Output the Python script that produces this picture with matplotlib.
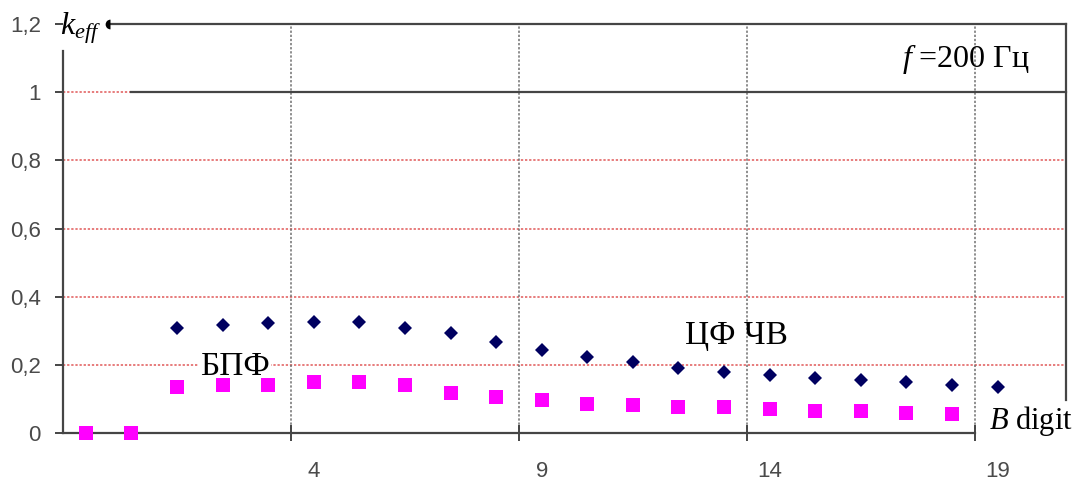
import matplotlib.pyplot as plt

# данные
bits_fft = [-1, 0, 1, 2, 3, 4, 5, 6, 7, 8, 9, 10, 11, 12, 13, 14, 15, 16, 17, 18]
k_fft = [0, 0, 0.134, 0.140, 0.141, 0.151, 0.151, 0.140, 0.117, 0.105,
         0.097, 0.086, 0.081, 0.077, 0.077, 0.069, 0.066, 0.066, 0.059, 0.056]

bits_cf = [1, 2, 3, 4, 5, 6, 7, 8, 9, 10, 11, 12, 13, 14, 15, 16, 17, 18, 19]
k_cf = [0.307, 0.317, 0.324, 0.327, 0.325, 0.307, 0.293, 0.268, 0.244, 0.222,
        0.207, 0.192, 0.180, 0.169, 0.162, 0.155, 0.150, 0.140, 0.136]

y_ticks = [0, 0.2, 0.4, 0.6, 0.8, 1.0, 1.2]
y_labels = ['0', '0,2', '0,4', '0,6', '0,8', '1', '1,2']
x_label_pos = [4, 9, 14, 19]
x_labels = ['4', '9', '14', '19']

plt.rcParams['mathtext.fontset'] = 'custom'
plt.rcParams['mathtext.rm'] = 'Liberation Serif'
plt.rcParams['mathtext.it'] = 'Liberation Serif:italic'

fig = plt.figure(figsize=(10.84, 4.8), dpi=100)
ax = fig.add_axes([0.0581, 0.0979, 0.9253, 0.8521])
ax.set_xlim(-1.5, 20.5)
ax.set_ylim(0, 1.2)

line_col = '#454545'
for s in ['top', 'right']:
    ax.spines[s].set_visible(False)
for s in ['left', 'bottom']:
    ax.spines[s].set_color(line_col)
    ax.spines[s].set_linewidth(1.6)
ax.spines['left'].set_bounds(0, 1.12)
ax.spines['bottom'].set_bounds(-1.5, 18.5)

# сетка
for y in y_ticks[1:-1]:
    ax.axhline(y, color='#e05858', ls=(0, (1.5, 1.2)), lw=1.1, zorder=1, clip_on=False)
grid_x = [p - 0.5 for p in x_label_pos]
for x in grid_x:
    ax.plot([x, x], [0, 1.2], color='#707070', ls=(0, (1.5, 1.2)), lw=1.1, zorder=1)

# рамка надписи
ax.plot([-0.47, 20.5], [1.2, 1.2], color=line_col, lw=1.6, clip_on=False, zorder=2)
ax.plot([0.0, 20.5], [1.0, 1.0], color=line_col, lw=1.6, clip_on=False, zorder=2)
ax.plot([20.5, 20.5], [0.097, 1.2], color=line_col, lw=1.6, clip_on=False, zorder=2)
ax.plot([-0.47], [1.2], marker='o', ms=7, color='black', fillstyle='left',
        mew=0, clip_on=False, zorder=3)

# оси
ax.set_yticks(y_ticks)
ax.set_yticklabels(y_labels)
ax.tick_params(axis='y', direction='out', length=6, width=1.4, color=line_col,
               pad=10, labelsize=16, labelcolor='#4a4a4a')
ax.set_xticks(grid_x)
ax.set_xticklabels([])
ax.tick_params(axis='x', which='major', direction='inout', length=12, width=1.4, color=line_col)
ax.set_xticks(x_label_pos, minor=True)
ax.set_xticklabels(x_labels, minor=True)
ax.tick_params(axis='x', which='minor', length=0, pad=20, labelsize=16, labelcolor='#4a4a4a')
for lab in ax.get_xticklabels(minor=True) + ax.get_yticklabels():
    lab.set_family('Liberation Sans')

# данные
ax.plot(bits_fft, k_fft, ls='none', marker='s', ms=9.5, color='#ff00ff', mew=0,
        clip_on=False, zorder=4)
ax.plot(bits_cf, k_cf, ls='none', marker='D', ms=7, color='#000060', mew=0,
        clip_on=False, zorder=4)

# подписи
serif = 'Liberation Serif'
ax.text(2.27, 0.194, 'БПФ', family=serif, fontsize=24, ha='center', va='center',
        bbox=dict(facecolor='white', edgecolor='none', pad=1), zorder=3)
ax.text(13.28, 0.285, 'ЦФ ЧВ', family=serif, fontsize=24, ha='center', va='center')
ax.text(18.3, 1.097, r'$f$ =200 Гц', family=serif, fontsize=23, ha='center', va='center')
ax.text(18.82, 0.035, r'$B$ digit', family=serif, fontsize=22, ha='left', va='center')
ax.text(-1.57, 1.168, r'$k_{eff}$', family=serif, fontsize=23, ha='left', va='baseline')

plt.savefig('out.png', dpi=100)
